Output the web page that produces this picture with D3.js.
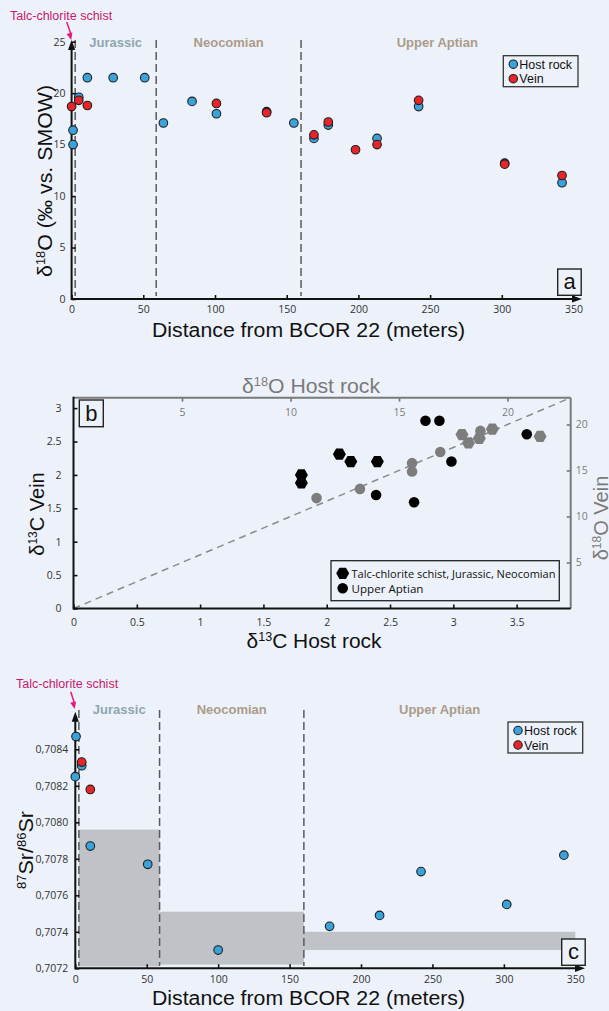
<!DOCTYPE html>
<html><head><meta charset="utf-8">
<script src="https://cdn.jsdelivr.net/npm/d3@7"></script>
<style>body{margin:0;background:#edf2fa}svg{display:block}</style>
</head><body>
<svg id="chart" width="609" height="1011"></svg>
<script>
// ---------------- DATA ----------------
const eraNames = ["Jurassic", "Neocomian", "Upper Aptian"];
const eraBounds = [2.5, 59, 160, 350];           // metres
const distTicks = [0, 50, 100, 150, 200, 250, 300, 350];

// Panel a : δ18O vs distance
const hostDistA = [1, 1, 5, 11, 29, 51, 64, 84, 101, 136, 155, 169, 179, 213, 242, 302, 342];
const hostO     = [16.4, 15.0, 19.6, 21.5, 21.5, 21.5, 17.1, 19.2, 18.0, 18.2, 17.1, 15.6, 16.9, 15.6, 18.7, 13.2, 11.3];
const veinDistA = [0, 5, 11, 101, 136, 169, 179, 198, 213, 242, 302, 342];
const veinO     = [18.7, 19.3, 18.8, 19.0, 18.1, 15.95, 17.2, 14.5, 15.0, 19.3, 13.1, 12.0];
const oTicksA   = [0, 5, 10, 15, 20, 25];

// Panel b : host vs vein (C black, O gray)
const hexC_host  = [1.8, 1.8, 2.1, 2.19, 2.4];
const hexC_vein  = [2.0, 1.88, 2.31, 2.2, 2.2];
const circC_host = [2.78, 2.89, 2.985, 3.58, 2.39, 2.69];
const circC_vein = [2.81, 2.81, 2.2, 2.61, 1.70, 1.59];
const hexO_host  = [17.9, 18.2, 18.7, 19.3, 21.5];
const hexO_vein  = [18.9, 18.0, 18.5, 19.5, 18.7];
const circO_host = [11.2, 13.2, 15.6, 15.6, 16.9, 18.75];
const circO_vein = [12.0, 13.0, 15.8, 14.9, 17.0, 19.3];
const cTicksX = [0, 0.5, 1, 1.5, 2, 2.5, 3, 3.5];
const cTicksY = [0, 0.5, 1, 1.5, 2, 2.5, 3];
const oTicksTop = [5, 10, 15, 20];
const oTicksRight = [5, 10, 15, 20];

// Panel c : 87Sr/86Sr vs distance
const hostDistC = [0.5, 0, 4.5, 10.5, 50.7, 100, 178, 213, 242, 302, 342];
const hostSr    = [0.70847, 0.70825, 0.70831, 0.70787, 0.70777, 0.70730, 0.70743, 0.70749, 0.70773, 0.70755, 0.70782];
const veinDistC = [4.5, 10.5];
const veinSr    = [0.70833, 0.70818];
const bandX0 = [2.5, 59, 160];
const bandX1 = [59, 160, 350];
const bandLo = [0.70721, 0.70722, 0.70730];
const bandHi = [0.70796, 0.70751, 0.70740];
const srTicks = [0.7072, 0.7074, 0.7076, 0.7078, 0.7080, 0.7082, 0.7084];

// ---------------- STYLE ----------------
const BG = "#edf2fa", BLUE = "#3ba3dc", RED = "#e8242b", OUT = "#1e1e1e";
const ERA_COL = ["#8ea6af", "#ab9b8a", "#ab9b8a"];
const TALC = "#c8186e", TALC_ARROW = "#e3197d";
const GRAY = "#7d7d7d";
const FT = "'Liberation Sans', Arial, Helvetica, sans-serif";
const FK = "'Open Sans', 'Noto Sans', sans-serif";

const svg = d3.select("#chart");
svg.append("rect").attr("width", 609).attr("height", 1011).attr("fill", BG);

function richText(g, parts, size, opts) {
  const t = g.append("text").attr("font-family", FT).attr("font-size", size)
    .attr("fill", opts.fill || "#111").attr("text-anchor", "middle");
  if (opts.transform) t.attr("transform", opts.transform);
  else t.attr("x", opts.x).attr("y", opts.y);
  let shift = 0;
  parts.forEach(p => {
    const sup = p[1];
    const ts = t.append("tspan").text(p[0]);
    if (sup) { ts.attr("font-size", size * 0.6).attr("dy", -size * 0.34); shift = size * 0.34; }
    else { if (shift) { ts.attr("dy", shift); shift = 0; } }
  });
  if (opts.len) t.attr("textLength", opts.len).attr("lengthAdjust", "spacingAndGlyphs");
  return t;
}

function styleAxis(g, col, tcol, fs) {
  g.select(".domain").remove();
  g.selectAll(".tick line").attr("stroke", col).attr("stroke-width", 1.6);
  g.selectAll(".tick text").attr("font-family", FK).attr("font-size", fs || 10).attr("fill", tcol);
}

function arrowUp(g, x, yTip) {
  g.append("path").attr("d", `M${x - 3.6},${yTip + 10}L${x},${yTip}L${x + 3.6},${yTip + 10}Z`).attr("fill", "#111");
}
function arrowRight(g, xTip, y) {
  g.append("path").attr("d", `M${xTip - 10},${y - 3.6}L${xTip},${y}L${xTip - 10},${y + 3.6}Z`).attr("fill", "#111");
}

function distancePanel(cfg) {
  const g = svg.append("g");
  const x = cfg.x, y = cfg.y;
  if (cfg.bands) {
    g.selectAll("rect.band").data(cfg.bands).join("rect").attr("class", "band")
      .attr("x", d => x(d.x0)).attr("width", d => x(d.x1) - x(d.x0))
      .attr("y", d => y(d.hi)).attr("height", d => y(d.lo) - y(d.hi))
      .attr("fill", "#bfc3c8");
  }
  g.selectAll("line.era").data(eraBounds.slice(0, 3)).join("line").attr("class", "era")
    .attr("x1", d => x(d)).attr("x2", d => x(d))
    .attr("y1", cfg.dashTop).attr("y2", cfg.dashBot)
    .attr("stroke", "#5a5a5a").attr("stroke-width", 1.5).attr("stroke-dasharray", "8,4");
  eraNames.forEach((n, i) => {
    g.append("text").attr("x", x((eraBounds[i] + eraBounds[i + 1]) / 2)).attr("y", cfg.eraY)
      .attr("text-anchor", "middle").attr("font-family", FT).attr("font-size", 13).attr("font-weight", "bold")
      .attr("fill", ERA_COL[i]).text(n);
  });
  g.append("text").attr("x", cfg.talcX).attr("y", cfg.talcY).attr("font-family", FT).attr("font-size", 12.5)
    .attr("fill", TALC).text("Talc-chlorite schist");
  g.append("line").attr("x1", cfg.talcArrow[0]).attr("y1", cfg.talcArrow[1])
    .attr("x2", cfg.talcArrow[2]).attr("y2", cfg.talcArrow[3] - 5)
    .attr("stroke", TALC_ARROW).attr("stroke-width", 1.5);
  {
    const [x1, y1, x2, y2] = cfg.talcArrow;
    const a = Math.atan2(y2 - y1, x2 - x1), L = 7, Wd = 3;
    const bx = x2 - L * Math.cos(a), by = y2 - L * Math.sin(a);
    g.append("path").attr("d", `M${x2},${y2}L${bx - Wd * Math.sin(a)},${by + Wd * Math.cos(a)}L${bx + Wd * Math.sin(a)},${by - Wd * Math.cos(a)}Z`)
      .attr("fill", TALC_ARROW);
  }
  const x0 = x(0), yb = y.range()[0];
  const ax = g.append("g").attr("transform", `translate(0,${yb})`)
    .call(d3.axisBottom(x).tickValues(distTicks).tickSizeInner(-4).tickSizeOuter(0).tickPadding(7));
  styleAxis(ax, "#111", "#333", 10.5);
  const ay = g.append("g").attr("transform", `translate(${x0},0)`)
    .call(d3.axisLeft(y).tickValues(cfg.yTicks).tickSizeInner(-4).tickSizeOuter(0).tickPadding(cfg.yPad).tickFormat(cfg.yFmt));
  styleAxis(ay, "#111", "#333", 10.5);
  g.append("line").attr("x1", x0).attr("x2", cfg.xArrowTip - 6).attr("y1", yb).attr("y2", yb).attr("stroke", "#111").attr("stroke-width", 2);
  g.append("line").attr("x1", x0).attr("x2", x0).attr("y1", yb + 1).attr("y2", cfg.yArrowTip + 6).attr("stroke", "#111").attr("stroke-width", 2);
  arrowUp(g, x0, cfg.yArrowTip);
  arrowRight(g, cfg.xArrowTip, yb);
  g.selectAll("circle.host").data(cfg.host).join("circle").attr("class", "host")
    .attr("cx", d => x(d[0])).attr("cy", d => y(d[1])).attr("r", 4.3)
    .attr("fill", BLUE).attr("stroke", OUT).attr("stroke-width", 1.1);
  g.selectAll("circle.vein").data(cfg.vein).join("circle").attr("class", "vein")
    .attr("cx", d => x(d[0])).attr("cy", d => y(d[1])).attr("r", 4.3)
    .attr("fill", RED).attr("stroke", OUT).attr("stroke-width", 1.1);
  const L = cfg.legend;
  g.append("rect").attr("x", L.x).attr("y", L.y).attr("width", L.w).attr("height", L.h)
    .attr("fill", "none").attr("stroke", "#333").attr("stroke-width", 1.3);
  [["Host rock", BLUE], ["Vein", RED]].forEach((e, i) => {
    const cy = L.y + 8.5 + i * 14.5;
    g.append("circle").attr("cx", L.x + 10).attr("cy", cy).attr("r", 4.2).attr("fill", e[1]).attr("stroke", OUT).attr("stroke-width", 1.1);
    g.append("text").attr("x", L.x + 16).attr("y", cy + 4.5).attr("font-family", FT).attr("font-size", 12.5).attr("fill", "#111").text(e[0]);
  });
  const B = cfg.box;
  g.append("rect").attr("x", B.x).attr("y", B.y).attr("width", 23.5).attr("height", 26.3)
    .attr("fill", BG).attr("stroke", "#222").attr("stroke-width", 1.4);
  g.append("text").attr("x", B.x + 11.8).attr("y", B.y + 20).attr("text-anchor", "middle")
    .attr("font-family", FT).attr("font-size", 22).attr("fill", "#111").text(B.t);
  richText(g, [["Distance from BCOR 22 (meters)", false]], 20, { x: 308.5, y: cfg.xTitleY, len: 313 });
  richText(g, cfg.yTitle, 20, { transform: `translate(${cfg.yTitleX},${cfg.yTitleY}) rotate(-90)`, len: cfg.yTitleLen });
}

// ---------------- PANEL A ----------------
const xa = d3.scaleLinear([0, 350], [71.6, 573.5]);
const ya = d3.scaleLinear([0, 25], [299, 41.7]);
distancePanel({
  x: xa, y: ya, yTicks: oTicksA, yPad: 6, yFmt: d3.format("d"),
  host: hostDistA.map((d, i) => [d, hostO[i]]),
  vein: veinDistA.map((d, i) => [d, veinO[i]]),
  dashTop: 40, dashBot: 296, eraY: 46.5,
  talcX: 10, talcY: 20, talcArrow: [66.7, 22, 71.2, 40],
  xArrowTip: 582, yArrowTip: 40,
  legend: { x: 503.3, y: 55.7, w: 74.7, h: 31 },
  box: { x: 557.7, y: 269, t: "a" },
  xTitleY: 336.5,
  yTitle: [["δ", false], ["18", true], ["O (‰ vs. SMOW)", false]],
  yTitleX: 51.5, yTitleY: 181, yTitleLen: 192
});

// ---------------- PANEL B ----------------
(function () {
  const g = svg.append("g");
  const L = 73.5, R = 570.7, T = 397.7, B = 608.5;
  const xC = d3.scaleLinear([0, 3.927], [L, R]);
  const yC = d3.scaleLinear([0, 3.156], [B, T]);
  const xO = d3.scaleLinear([0, 22.91], [L, R]);
  const yO = d3.scaleLinear([0, 22.91], [B, T]);

  g.append("line").attr("x1", xO(0)).attr("y1", yO(0)).attr("x2", xO(22.91)).attr("y2", yO(22.91))
    .attr("stroke", "#8a8a8a").attr("stroke-width", 1.5).attr("stroke-dasharray", "7,5");

  const aB = g.append("g").attr("transform", `translate(0,${B})`)
    .call(d3.axisBottom(xC).tickValues(cTicksX).tickSizeInner(-4).tickSizeOuter(0).tickPadding(10).tickFormat(d => d));
  styleAxis(aB, "#111", "#333", 10.5);
  const aL = g.append("g").attr("transform", `translate(${L},0)`)
    .call(d3.axisLeft(yC).tickValues(cTicksY).tickSizeInner(-4).tickSizeOuter(0).tickPadding(12).tickFormat(d => d));
  styleAxis(aL, "#111", "#333", 10.5);
  const aT = g.append("g").attr("transform", `translate(0,${T})`)
    .call(d3.axisTop(xO).tickValues(oTicksTop).tickSizeInner(-4).tickSizeOuter(0).tickPadding(0));
  styleAxis(aT, "#777", "#7a7a7a", 10.5);
  aT.selectAll(".tick text").attr("y", 18).attr("dy", 0);
  const aR = g.append("g").attr("transform", `translate(${R},0)`)
    .call(d3.axisRight(yO).tickValues(oTicksRight).tickSizeInner(-4).tickSizeOuter(0).tickPadding(5));
  styleAxis(aR, "#777", "#7a7a7a", 10.5);

  g.append("line").attr("x1", L).attr("x2", R).attr("y1", T).attr("y2", T).attr("stroke", "#7a7a7a").attr("stroke-width", 2);
  g.append("line").attr("x1", R).attr("x2", R).attr("y1", T).attr("y2", B).attr("stroke", "#7a7a7a").attr("stroke-width", 2);
  g.append("line").attr("x1", L).attr("x2", R).attr("y1", B).attr("y2", B).attr("stroke", "#111").attr("stroke-width", 2);
  g.append("line").attr("x1", L).attr("x2", L).attr("y1", T - 1).attr("y2", B + 1).attr("stroke", "#111").attr("stroke-width", 2);

  const hexType = {
    draw(ctx, size) {
      const r = Math.sqrt(size / (3 * Math.sqrt(3) / 2));
      for (let i = 0; i < 6; i++) {
        const a = i * Math.PI / 3;
        const px = r * Math.cos(a), py = r * Math.sin(a);
        if (i === 0) ctx.moveTo(px, py); else ctx.lineTo(px, py);
      }
      ctx.closePath();
    }
  };
  const hexPath = d3.symbol(hexType, 110)();
  const circPath = d3.symbol(d3.symbolCircle, 88)();

  function pts(hx, vy, xs, ys, path, col) {
    g.selectAll(null).data(hx.map((d, i) => [d, vy[i]])).join("path")
      .attr("d", path).attr("transform", d => `translate(${xs(d[0])},${ys(d[1])})`).attr("fill", col);
  }
  pts(circO_host, circO_vein, xO, yO, circPath, GRAY);
  pts(hexO_host, hexO_vein, xO, yO, hexPath, GRAY);
  pts(hexC_host, hexC_vein, xC, yC, hexPath, "#000");
  pts(circC_host, circC_vein, xC, yC, circPath, "#000");

  g.append("rect").attr("x", 331).attr("y", 560.7).attr("width", 228.3).attr("height", 40)
    .attr("fill", BG).attr("stroke", "#222").attr("stroke-width", 1.3);
  g.append("path").attr("d", hexPath).attr("transform", "translate(342.7,573.3)").attr("fill", "#000");
  g.append("path").attr("d", circPath).attr("transform", "translate(342.7,588.3)").attr("fill", "#000");
  g.append("text").attr("x", 351.5).attr("y", 577.6).attr("font-family", FK).attr("font-size", 11.6).attr("fill", "#111")
    .attr("textLength", 204).attr("lengthAdjust", "spacingAndGlyphs").text("Talc-chlorite schist, Jurassic, Neocomian");
  g.append("text").attr("x", 351.5).attr("y", 592.6).attr("font-family", FK).attr("font-size", 11.6).attr("fill", "#111")
    .text("Upper Aptian");

  g.append("rect").attr("x", 79.3).attr("y", 400).attr("width", 24).attr("height", 26.7)
    .attr("fill", BG).attr("stroke", "#222").attr("stroke-width", 1.4);
  g.append("text").attr("x", 91.3).attr("y", 421).attr("text-anchor", "middle")
    .attr("font-family", FT).attr("font-size", 22).attr("fill", "#111").text("b");

  richText(g, [["δ", false], ["13", true], ["C Host rock", false]], 20, { x: 314, y: 648, len: 135 });
  richText(g, [["δ", false], ["18", true], ["O Host rock", false]], 20, { x: 311, y: 392.5, len: 138, fill: "#7a7a7a" });
  richText(g, [["δ", false], ["13", true], ["C Vein", false]], 20, { transform: "translate(43.5,514) rotate(-90)" });
  richText(g, [["δ", false], ["18", true], ["O Vein", false]], 20, { transform: "translate(608,518) rotate(-90)", fill: "#7a7a7a" });
})();

// ---------------- PANEL C ----------------
const xc = d3.scaleLinear([0, 350], [75.3, 575.3]);
const yc = d3.scaleLinear([0.7072, 0.7086], [968.3, 712.8]);
distancePanel({
  x: xc, y: yc, yTicks: srTicks, yPad: 7, yFmt: d => d3.format(".4f")(d).replace(".", ","),
  host: hostDistC.map((d, i) => [d, hostSr[i]]),
  vein: veinDistC.map((d, i) => [d, veinSr[i]]),
  bands: bandX0.map((d, i) => ({ x0: d, x1: bandX1[i], lo: bandLo[i], hi: bandHi[i] })),
  dashTop: 710, dashBot: 966, eraY: 713.5,
  talcX: 16, talcY: 687.5, talcArrow: [70.7, 691.7, 74.7, 709],
  xArrowTip: 585, yArrowTip: 711.7,
  legend: { x: 508, y: 722, w: 74.7, h: 31 },
  box: { x: 561.7, y: 939, t: "c" },
  xTitleY: 1005,
  yTitle: [["87", true], ["Sr/", false], ["86", true], ["Sr", false]],
  yTitleX: 33, yTitleY: 850, yTitleLen: 78
});
</script>
</body></html>
